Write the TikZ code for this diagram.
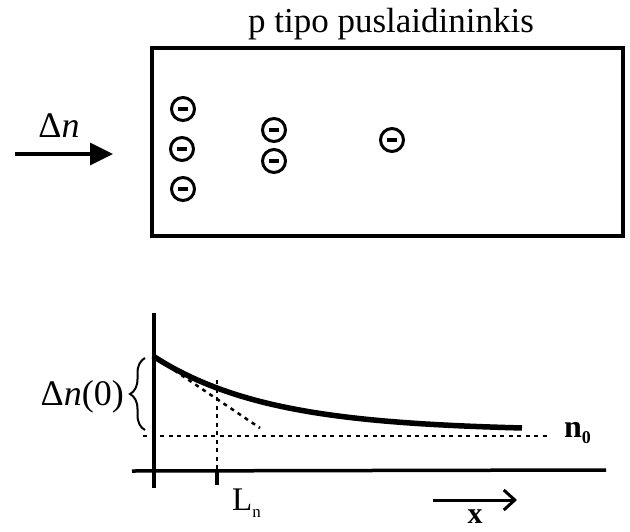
\documentclass[tikz,border=0pt]{standalone}
\usepackage{fontspec}
\setmainfont{Liberation Serif}
\usepackage{tikz}
\usetikzlibrary{positioning,arrows.meta,decorations.pathreplacing}

\begin{document}
\begin{tikzpicture}[
        x=1pt, y=-1pt,
        sample/.style={
            rectangle,
            draw=black,
            line width=3.5pt,
            minimum width=471pt,
            minimum height=188pt
        },
        elec/.style={
            circle,
            draw=black,
            line width=3pt,
            minimum size=23pt,
            inner sep=0pt
        },
        title/.style={font=\fontsize{35}{40}\selectfont, anchor=base},
        lbl/.style={font=\fontsize{36}{40}\selectfont, inner sep=0pt},
        axis/.style={line width=3.5pt},
        guide/.style={line width=2.5pt, dash pattern=on 4pt off 4.5pt},
        inflow/.style={line width=3.5pt, -{Triangle[length=23pt,width=22pt]}},
        xflow/.style={line width=3pt, -{Straight Barb[length=11pt,width=20pt]}}
    ]
        \useasboundingbox (0,0) rectangle (630,531);

        % Sample
        \node[sample] (semi) at (387.5,142) {};
        \node[title] (head) at (391,32) {p tipo puslaidininkis};

        % Injection arrow
        \coordinate (inl) at (15,154);
        \coordinate (inr) at (113,154);
        \draw[inflow] (inl) -- (inr);
        \node[lbl, anchor=base] (dn) at (59,137) {Δ\textit{n}};

        % Electrons
        \node[elec] (e1) at (183,109) {\rule{10pt}{4pt}};
        \node[elec] (e2) at (182,149) {\rule{10pt}{4pt}};
        \node[elec] (e3) at (183,189) {\rule{10pt}{4pt}};
        \node[elec] (e4) at (274,130) {\rule{10pt}{4pt}};
        \node[elec] (e5) at (274,161) {\rule{10pt}{4pt}};
        \node[elec] (e6) at (392,140) {\rule{10pt}{4pt}};

        % Axes
        \coordinate (ytop) at (154,313);
        \coordinate (ybot) at (154,488);
        \coordinate (xl) at (132,471);
        \coordinate (xr) at (606,470);
        \draw[axis] (ytop) -- (ybot);
        \draw[axis] (xl) -- (xr);

        % Equilibrium level and diffusion length
        \coordinate (n0l) at (143,436);
        \coordinate (n0r) at (548,436);
        \draw[guide] (n0l) -- (n0r);
        \node[font=\fontsize{32}{36}\selectfont\bfseries, anchor=base west, inner sep=0pt] (n0) at (564,437)
            {n\raisebox{-6pt}{\fontsize{18}{20}\selectfont 0}};

        \coordinate (lntop) at (217,380);
        \coordinate (lnax) at (217,471);
        \coordinate (lntick) at (217,485);
        \draw[guide] (lntop) -- (lnax);
        \draw[axis] (lnax) -- (lntick);
        \node[font=\fontsize{33}{38}\selectfont, anchor=base west, inner sep=0pt] (ln) at (232,510)
            {L\raisebox{-7pt}{\fontsize{17}{19}\selectfont n}};

        % Excess carrier profile
        \draw[line width=5.5pt] plot[domain=153:522, samples=60] (\x, {431-75*exp(-(\x-153)/115)});
        \coordinate (c0) at (153,356);
        \coordinate (tan) at (260,428);
        \draw[guide] (c0) -- (tan);

        % Brace
        \coordinate (bb) at (145,430);
        \coordinate (bt) at (145,358);
        \draw[line width=2pt, decorate, decoration={brace, amplitude=15pt}] (bb) -- (bt);
        \node[lbl, anchor=east] (dn0) at (124,397) {Δ\textit{n}(0)};

        % Direction
        \coordinate (xal) at (433,500);
        \coordinate (xar) at (517,500);
        \draw[xflow] (xal) -- (xar);
        \node[font=\fontsize{30}{34}\selectfont\bfseries, anchor=base, inner sep=0pt] (xlab) at (475,523) {x};

    \end{tikzpicture}
\end{document}
